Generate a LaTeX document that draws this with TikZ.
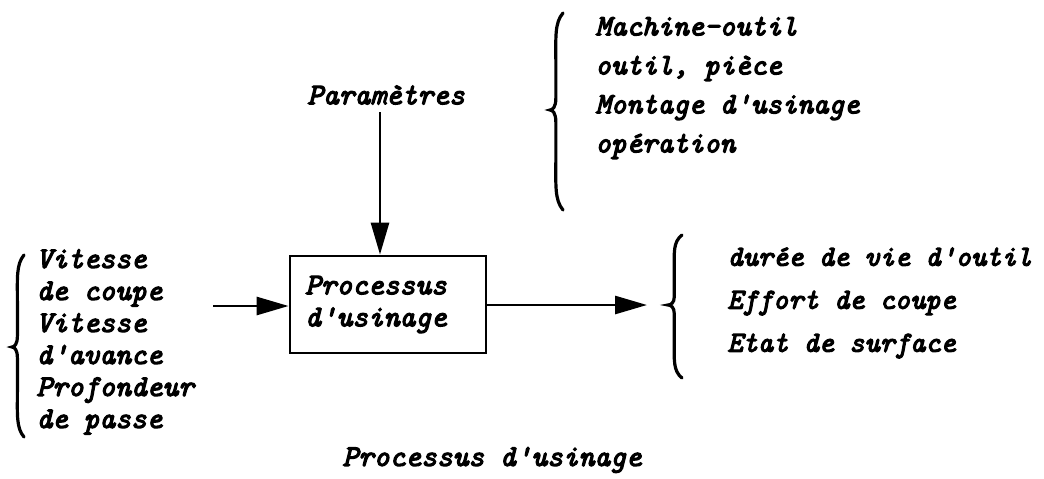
\documentclass[tikz,border=0pt]{standalone}
\usepackage{fontspec}
\newfontfamily\tw{lmmono10-italic}[Extension=.otf, FakeBold=4]
\usetikzlibrary{arrows.meta}
\newcommand{\brc}[5]{% x-left(tip), x-right, top, tip y, bottom
  \draw[bracestyle] (#2,#3) .. controls ({#1+0.35*(#2-#1)},{#3+0.1*(#4-#3)}) and ({#1+0.45*(#2-#1)},{#3+0.25*(#4-#3)}) .. ({#1+0.45*(#2-#1)},{#3+0.5*(#4-#3)})
    -- ({#1+0.45*(#2-#1)},{#4-0.12*(#4-#3)}) .. controls ({#1+0.45*(#2-#1)},{#4-0.03*(#4-#3)}) and ({#1+0.2*(#2-#1)},#4) .. (#1,#4)
    .. controls ({#1+0.2*(#2-#1)},#4) and ({#1+0.45*(#2-#1)},{#4+0.03*(#5-#4)}) .. ({#1+0.45*(#2-#1)},{#4+0.12*(#5-#4)})
    -- ({#1+0.45*(#2-#1)},{#4+0.5*(#5-#4)}) .. controls ({#1+0.45*(#2-#1)},{#5-0.25*(#5-#4)}) and ({#1+0.35*(#2-#1)},{#5-0.1*(#5-#4)}) .. (#2,#5);}
\begin{document}
\begin{tikzpicture}[x=0.5pt,y=-0.5pt,
  txt/.style={font=\tw\fontsize{15}{16}\selectfont, inner sep=0pt, align=left},
  bracestyle/.style={line width=1.6pt, line cap=round},
  conn/.style={line width=1.4pt, -{Triangle[length=16pt,width=9pt]}},
  procbox/.style={draw, line width=1.4pt, minimum width=98pt, minimum height=48.5pt, inner xsep=7.5pt, text width=83pt}]
\useasboundingbox (0,0) rectangle (1044,478);
% box
\node[procbox, txt, inner xsep=7.5pt] (proc) at (388,304.5) {Processus\\d'usinage};
% parameters
\node[txt, anchor=center] (params) at (386,95) {Paramètres};
\draw[conn] (380,112) -- (proc.north -| 380,0);
% top list
\node[txt, anchor=west, font=\tw\fontsize{14.8}{19.5}\selectfont] (toplist) at (595,88) {Machine-outil\\outil, pièce\\Montage d'usinage\\opération};
\brc{550}{563}{13}{110}{210}
% left list
\node[txt, anchor=west] (leftlist) at (36,342) {Vitesse\\de coupe\\Vitesse\\d'avance\\Profondeur\\de passe};
\brc{12}{24}{255}{347}{437}
\coordinate (lstart) at (213,306);
\draw[conn] (lstart) -- (proc.west |- lstart);
% right list
\node[txt, anchor=west, font=\tw\fontsize{14.5}{21.5}\selectfont] (rightlist) at (727,303) {durée de vie d'outil\\Effort de coupe\\Etat de surface};
\brc{668}{682}{235}{305}{378}
\coordinate (rend) at (647,305);
\draw[conn] (proc.east |- rend) -- (rend);
% caption
\node[txt] (caption) at (492,460) {Processus d'usinage};
\end{tikzpicture}
\end{document}
